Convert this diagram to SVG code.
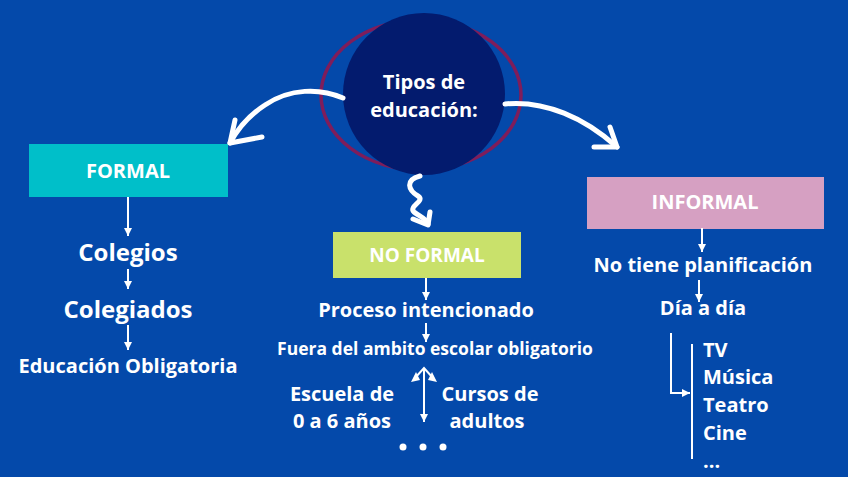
<svg xmlns="http://www.w3.org/2000/svg" width="848" height="477" viewBox="0 0 848 477">
<defs>
<marker id="ah" markerWidth="10" markerHeight="10" refX="9" refY="5" orient="auto" markerUnits="userSpaceOnUse" viewBox="0 0 10 10">
<path d="M1,1 L9,5 L1,9 Z" fill="#fff"/>
</marker>
<style>
text{font-family:"Open Sans","Noto Sans","Liberation Sans",sans-serif;font-weight:bold;fill:#fff}
.c{text-anchor:middle}
.ln{stroke:#fff;stroke-width:2;fill:none}
.brush{stroke:#fff;stroke-width:5;fill:none;stroke-linecap:round;stroke-linejoin:round}
</style>
</defs>
<rect width="848" height="477" fill="#0449AA"/>

<g id="center">
<ellipse cx="421" cy="95" rx="100" ry="75" fill="none" stroke="#7F1D5B" stroke-width="3.5"/>
<circle cx="424" cy="94" r="81" fill="#031B6E"/>
<text class="c" x="424" y="89" font-size="20">Tipos de</text>
<text class="c" x="424" y="117" font-size="20">educación:</text>
</g>

<g id="formal">
<rect x="29" y="144" width="199" height="53" fill="#00BFC9"/>
<text class="c" x="128" y="178" font-size="20">FORMAL</text>
<text class="c" x="128" y="261" font-size="24">Colegios</text>
<text class="c" x="128" y="318" font-size="24">Colegiados</text>
<text class="c" x="128" y="373" font-size="20">Educación Obligatoria</text>
</g>

<g id="noformal">
<rect x="333" y="232" width="188" height="46" fill="#C9E16B"/>
<text class="c" x="427" y="262" font-size="19">NO FORMAL</text>
<text class="c" x="426" y="317" font-size="20">Proceso intencionado</text>
<text class="c" x="435" y="355" font-size="17.5">Fuera del ambito escolar obligatorio</text>
<text class="c" x="342" y="401" font-size="20">Escuela de</text>
<text class="c" x="342" y="428" font-size="20">0 a 6 años</text>
<text class="c" x="490" y="401" font-size="20">Cursos de</text>
<text class="c" x="487" y="428" font-size="20">adultos</text>
<circle cx="403" cy="447" r="3.5" fill="#fff"/>
<circle cx="423" cy="447" r="3.5" fill="#fff"/>
<circle cx="443" cy="447" r="3.5" fill="#fff"/>
</g>

<g id="informal">
<rect x="587" y="177" width="237" height="52" fill="#D6A0C2"/>
<text class="c" x="705" y="209" font-size="20">INFORMAL</text>
<text class="c" x="703" y="272" font-size="20">No tiene planificación</text>
<text class="c" x="703" y="315" font-size="20">Día a día</text>
<text x="703" y="357" font-size="20">TV</text>
<text x="703" y="384" font-size="20">Música</text>
<text x="703" y="412" font-size="20">Teatro</text>
<text x="703" y="440" font-size="20">Cine</text>
<text x="703" y="468" font-size="20">...</text>
</g>

<g id="connectors">
<path class="brush" d="M343,98 C320,88 290,88 265,105 C248,116 238,128 230,143"/>
<path class="brush" d="M235,120 L230,143 L262,137"/>
<path class="brush" d="M505,104 C545,100 585,118 617,147"/>
<path class="brush" d="M610,127 L617,147 L594,147"/>
<path class="brush" stroke-width="4" d="M420,176 C405,180 408,190 418,196 C426,201 408,206 414,212 C420,217 426,218 428,224"/>
<path class="brush" stroke-width="4" d="M413,219 L428,225 L430,212"/>

<line class="ln" x1="128" y1="197" x2="128" y2="236" marker-end="url(#ah)"/>
<line class="ln" x1="128" y1="269" x2="128" y2="289" marker-end="url(#ah)"/>
<line class="ln" x1="128" y1="325" x2="128" y2="350" marker-end="url(#ah)"/>

<line class="ln" x1="426" y1="278" x2="426" y2="300" marker-end="url(#ah)"/>
<line class="ln" x1="426" y1="323" x2="426" y2="342" marker-end="url(#ah)"/>
<line class="ln" x1="424" y1="368" x2="424" y2="422" marker-end="url(#ah)"/>
<path class="ln" d="M415,378 L424,368 L433,378"/>
<path d="M411,382 L416,372 L420,380 Z M437,382 L432,372 L428,380 Z" fill="#fff"/>

<line class="ln" x1="702" y1="228" x2="702" y2="252" marker-end="url(#ah)"/>
<line class="ln" x1="699" y1="280" x2="699" y2="302" marker-end="url(#ah)"/>
<path class="ln" d="M671,333 L671,393 L690,393" marker-end="url(#ah)"/>
<line class="ln" x1="692" y1="344" x2="692" y2="459"/>
</g>
</svg>
